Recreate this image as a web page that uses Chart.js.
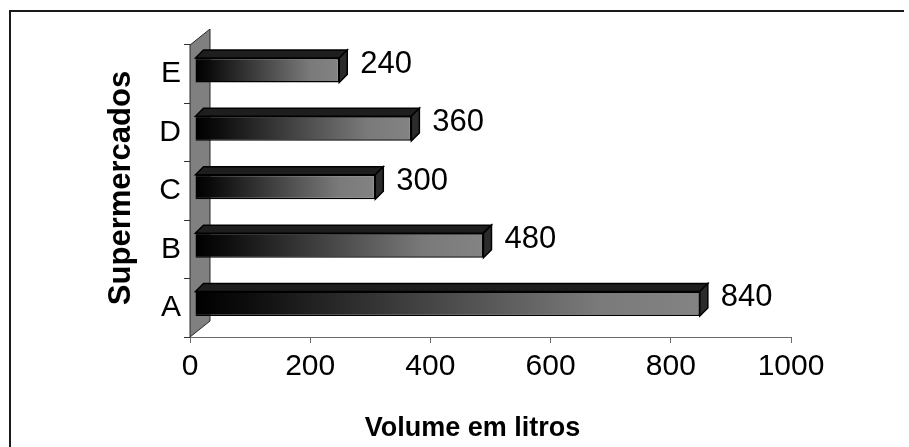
<!DOCTYPE html>
<html>
<head>
<meta charset="utf-8">
<script src="https://cdn.jsdelivr.net/npm/chart.js@4/dist/chart.umd.min.js"></script>
<style>
  html, body { margin: 0; padding: 0; background: #fff; }
  #wrap { width: 909px; height: 447px; }
</style>
</head>
<body>
<div id="wrap"><canvas id="c" width="909" height="447"></canvas></div>
<script>
// Volume sold per supermarket
const categories = ['A', 'B', 'C', 'D', 'E'];
const volumes = [840, 480, 300, 360, 240];
const xTicks = [0, 200, 400, 600, 800, 1000];
const xTitle = 'Volume em litros';
const yTitle = 'Supermercados';

const FONT = '"Liberation Sans", Arial, sans-serif';
const SHIFT = { dx: 5, dy: -4 };      // bars sit a little behind the front plane
const BAR_DEPTH = { dx: 8, dy: -8 };  // depth of each 3D bar
const WALL_DEPTH = { dx: 20, dy: -16 };

function poly(ctx, pts, fill, stroke, lw) {
  ctx.beginPath();
  ctx.moveTo(pts[0][0], pts[0][1]);
  for (let i = 1; i < pts.length; i++) ctx.lineTo(pts[i][0], pts[i][1]);
  ctx.closePath();
  if (fill) { ctx.fillStyle = fill; ctx.fill(); }
  if (stroke) { ctx.strokeStyle = stroke; ctx.lineWidth = lw || 1; ctx.stroke(); }
}

// Horizontal black-to-grey shading along each bar
function frontFill(context) {
  const chart = context.chart;
  if (!chart.chartArea) return '#444';
  const xs = chart.scales.x;
  const a = xs.getPixelForValue(0);
  const b = xs.getPixelForValue(context.raw);
  const g = chart.ctx.createLinearGradient(a, 0, b, 0);
  g.addColorStop(0, '#000000');
  g.addColorStop(0.1, '#0c0c0c');
  g.addColorStop(0.8, '#7a7a7a');
  g.addColorStop(1, '#838383');
  return g;
}

const framePlugin = {
  id: 'frame',
  beforeDraw(chart) {
    const c = chart.ctx;
    c.save();
    c.fillStyle = '#fff';
    c.fillRect(0, 0, chart.width, chart.height);
    c.strokeStyle = '#1a1a1a';
    c.lineWidth = 2;
    c.beginPath();
    c.moveTo(10, chart.height);
    c.lineTo(10, 11);
    c.lineTo(904, 11);
    c.stroke();
    c.restore();
  }
};

const solidPlugin = {
  id: 'solid',
  beforeDatasetsDraw(chart) {
    const c = chart.ctx;
    const { left, top, bottom } = chart.chartArea;
    c.save();
    // back wall
    poly(c, [[left, bottom], [left, top],
             [left + WALL_DEPTH.dx, top + WALL_DEPTH.dy],
             [left + WALL_DEPTH.dx, bottom + WALL_DEPTH.dy]], '#808080', '#2a2a2a', 1);
    c.restore();
    c.save();
    c.translate(SHIFT.dx, SHIFT.dy);
  },
  afterDatasetsDraw(chart) {
    const c = chart.ctx;
    const meta = chart.getDatasetMeta(0);
    const { dx, dy } = BAR_DEPTH;
    meta.data.forEach((bar, i) => {
      const p = bar.getProps(['x', 'y', 'base', 'height'], true);
      const x0 = Math.min(p.base, p.x), x1 = Math.max(p.base, p.x);
      const y0 = p.y - p.height / 2, y1 = p.y + p.height / 2;
      // top face
      poly(c, [[x0, y0], [x0 + dx, y0 + dy], [x1 + dx, y0 + dy], [x1, y0]], '#1e1e1e', '#000', 1.5);
      // end face
      poly(c, [[x1, y0], [x1 + dx, y0 + dy], [x1 + dx, y1 + dy], [x1, y1]], '#2b2b2b', '#000', 1.5);
      // value label
      c.fillStyle = '#000';
      c.font = '31px ' + FONT;
      c.textAlign = 'left';
      c.textBaseline = 'middle';
      c.fillText(String(volumes[i]), x1 + dx + 13, p.y - 6);
    });
    c.restore();
  }
};

const titlePlugin = {
  id: 'axisTitles',
  afterDraw(chart) {
    const c = chart.ctx;
    const { left, right, top, bottom } = chart.chartArea;
    c.save();
    c.fillStyle = '#000';
    c.textAlign = 'center';
    c.textBaseline = 'middle';
    c.font = 'bold 27px ' + FONT;
    c.fillText(xTitle, (left + right) / 2 - 18, 429);
    c.translate(121, (top + bottom) / 2 - 3);
    c.rotate(-Math.PI / 2);
    c.font = 'bold 31px ' + FONT;
    c.fillText(yTitle, 0, 0);
    c.restore();
  }
};

new Chart(document.getElementById('c'), {
  type: 'bar',
  data: {
    labels: categories,
    datasets: [{
      data: volumes,
      backgroundColor: frontFill,
      borderColor: '#000',
      borderWidth: 1.5,
      barPercentage: 0.42,
      categoryPercentage: 1,
      clip: false
    }]
  },
  options: {
    indexAxis: 'y',
    responsive: false,
    animation: false,
    devicePixelRatio: 1,
    layout: { padding: { left: 0, top: 45, right: 118, bottom: 0 } },
    plugins: { legend: { display: false }, tooltip: { enabled: false }, title: { display: false } },
    scales: {
      x: {
        min: 0,
        max: 1000,
        afterBuildTicks(s) { s.ticks = xTicks.map(v => ({ value: v })); },
        afterFit(s) { s.height = 110; },
        grid: { drawOnChartArea: false, drawTicks: true, tickLength: 6, color: '#6a6a6a' },
        border: { display: true, color: '#6a6a6a', width: 1 },
        ticks: {
          font: { family: FONT, size: 30 }, color: '#000', padding: 6, maxRotation: 0,
          callback: v => String(v)
        }
      },
      y: {
        reverse: true,
        afterFit(s) { s.width = 190; },
        grid: { drawOnChartArea: false, drawTicks: true, tickLength: 6, color: '#333', offset: true },
        border: { display: false },
        ticks: { font: { family: FONT, size: 30 }, color: '#000', padding: 3 }
      }
    }
  },
  plugins: [framePlugin, solidPlugin, titlePlugin]
});
</script>
</body>
</html>
